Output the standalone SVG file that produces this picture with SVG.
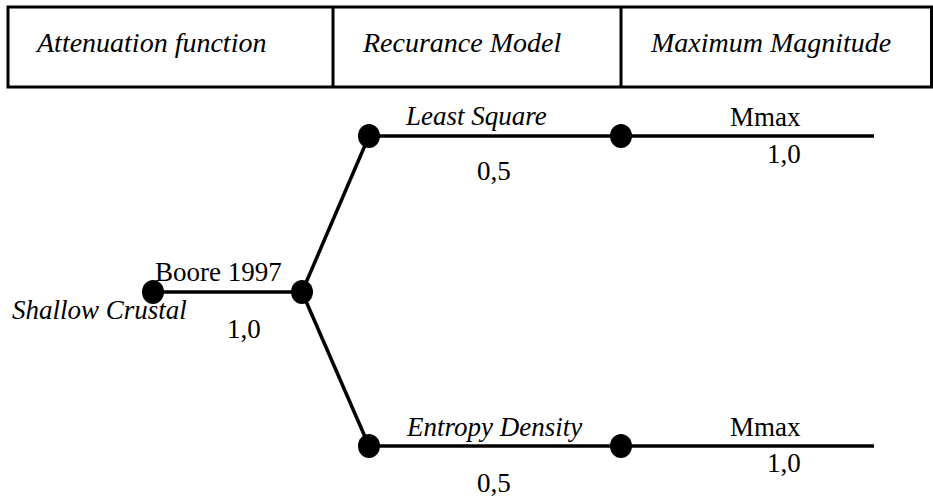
<svg xmlns="http://www.w3.org/2000/svg" width="933" height="497" viewBox="0 0 933 497" font-family="'Liberation Serif', 'Times New Roman', Times, 'DejaVu Serif', serif">
<style>
text{font-family:'Liberation Serif','Times New Roman',Times,'DejaVu Serif',serif;font-size:27px;fill:#000}
.i{font-style:italic}
.h{font-size:28px}
.ln{stroke:#000;stroke-width:3.5;fill:none}
.bx{stroke:#000;stroke-width:3;fill:#fff}
.nd{fill:#000}
</style>
<rect width="933" height="497" fill="#fff"/>
<g id="header">
<rect class="bx" x="8" y="7" width="923.5" height="80"/>
<line class="bx" x1="333" y1="7" x2="333" y2="87"/>
<line class="bx" x1="621" y1="7" x2="621" y2="87"/>
<text class="i h" x="37" y="52">Attenuation function</text>
<text class="i h" x="363" y="52">Recurance Model</text>
<text class="i h" x="651" y="52">Maximum Magnitude</text>
</g>
<g id="connectors">
<line class="ln" x1="153" y1="292" x2="302" y2="292"/>
<line class="ln" x1="302" y1="292" x2="369" y2="136"/>
<line class="ln" x1="302" y1="292" x2="369" y2="446"/>
<line class="ln" x1="369" y1="136" x2="621" y2="136"/>
<line class="ln" x1="621" y1="136" x2="874" y2="136"/>
<line class="ln" x1="369" y1="446" x2="621" y2="446"/>
<line class="ln" x1="621" y1="446" x2="874" y2="446"/>
</g>
<g id="node-root"><ellipse class="nd" cx="153" cy="292" rx="11" ry="12"/></g>
<g id="node-boore"><ellipse class="nd" cx="302" cy="292" rx="11" ry="12"/></g>
<g id="node-ls"><ellipse class="nd" cx="369" cy="136" rx="11" ry="12"/></g>
<g id="node-ls-mmax"><ellipse class="nd" cx="621" cy="136" rx="11" ry="12"/></g>
<g id="node-ed"><ellipse class="nd" cx="369" cy="446" rx="11" ry="12"/></g>
<g id="node-ed-mmax"><ellipse class="nd" cx="621" cy="446" rx="11" ry="12"/></g>
<g id="labels">
<text x="155" y="281">Boore 1997</text>
<text class="i" x="12" y="319">Shallow Crustal</text>
<text x="227" y="338">1,0</text>
<text class="i" x="406" y="125">Least Square</text>
<text x="477" y="180">0,5</text>
<text x="730" y="126">Mmax</text>
<text x="767" y="163">1,0</text>
<text class="i" x="407" y="436">Entropy Density</text>
<text x="477" y="492">0,5</text>
<text x="730" y="436">Mmax</text>
<text x="767" y="472">1,0</text>
</g>
</svg>
